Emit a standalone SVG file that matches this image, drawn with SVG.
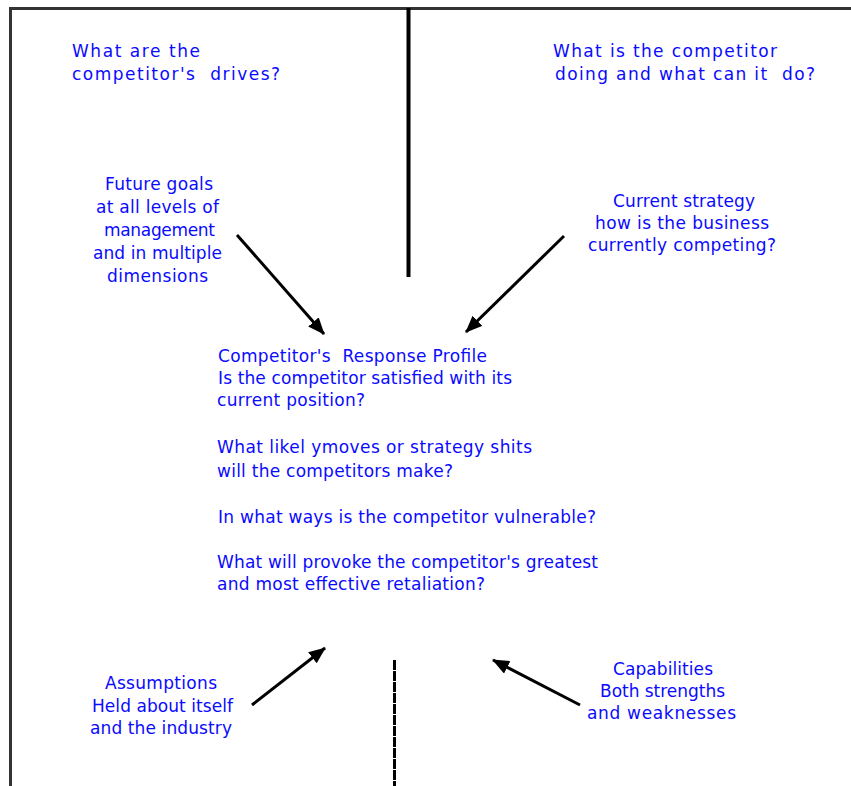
<svg xmlns="http://www.w3.org/2000/svg" width="851" height="786" viewBox="0 0 851 786">
<style>
.t{font-family:"DejaVu Sans","Liberation Sans",sans-serif;font-size:17px;fill:#0a0aff;white-space:pre}
.frame{stroke:#333;stroke-width:3;fill:none}
.arr{stroke:#000;stroke-width:3;fill:none;marker-end:url(#ah)}
</style>
<defs>
<marker id="ah" markerUnits="userSpaceOnUse" markerWidth="18" markerHeight="16" refX="16" refY="7" orient="auto">
<path d="M0,0 L17,7 L0,14 Z" fill="#000"/>
</marker>
</defs>
<rect width="851" height="786" fill="#fff"/>
<g id="frame">
<line class="frame" x1="9" y1="8.5" x2="851" y2="8.5"/>
<line class="frame" x1="10.5" y1="7" x2="10.5" y2="786"/>
<line x1="408.5" y1="8" x2="408.5" y2="277" stroke="#000" stroke-width="4"/>
<line x1="394.5" y1="660" x2="394.5" y2="786" stroke="#000" stroke-width="3" stroke-dasharray="10 1"/>
</g>
<g id="drives">
<text class="t" x="72" y="57" textLength="128">What are the</text>
<text class="t" x="72" y="80" textLength="208">competitor's  drives?</text>
</g>
<g id="doing">
<text class="t" x="553" y="57" textLength="224">What is the competitor</text>
<text class="t" x="555" y="80" textLength="260">doing and what can it  do?</text>
</g>
<g id="future-goals">
<text class="t" x="105" y="190" textLength="108">Future goals</text>
<text class="t" x="96" y="213" textLength="123">at all levels of</text>
<text class="t" x="104" y="236" textLength="111">management</text>
<text class="t" x="93" y="259" textLength="129">and in multiple</text>
<text class="t" x="107" y="282" textLength="101">dimensions</text>
</g>
<g id="current-strategy">
<text class="t" x="613" y="207" textLength="142">Current strategy</text>
<text class="t" x="595" y="229" textLength="174">how is the business</text>
<text class="t" x="588" y="251" textLength="188">currently competing?</text>
</g>
<g id="response-profile">
<text class="t" x="218" y="362" textLength="269">Competitor's  Response Profile</text>
<text class="t" x="218" y="384" textLength="294">Is the competitor satisfied with its</text>
<text class="t" x="217" y="406" textLength="148">current position?</text>
<text class="t" x="217" y="453" textLength="315">What likel ymoves or strategy shits</text>
<text class="t" x="217" y="477" textLength="236">will the competitors make?</text>
<text class="t" x="218" y="523" textLength="378">In what ways is the competitor vulnerable?</text>
<text class="t" x="217" y="568" textLength="381">What will provoke the competitor's greatest</text>
<text class="t" x="217" y="590" textLength="268">and most effective retaliation?</text>
</g>
<g id="assumptions">
<text class="t" x="105" y="689" textLength="112">Assumptions</text>
<text class="t" x="92" y="712" textLength="141">Held about itself</text>
<text class="t" x="90" y="734" textLength="142">and the industry</text>
</g>
<g id="capabilities">
<text class="t" x="613" y="675" textLength="100">Capabilities</text>
<text class="t" x="600" y="697" textLength="125">Both strengths</text>
<text class="t" x="587" y="719" textLength="149">and weaknesses</text>
</g>
<g id="connectors">
<line class="arr" x1="237" y1="235" x2="324" y2="334"/>
<line class="arr" x1="564" y1="236" x2="466" y2="332"/>
<line class="arr" x1="252" y1="705" x2="325" y2="648"/>
<line class="arr" x1="580" y1="705" x2="493" y2="660"/>
</g>
</svg>
